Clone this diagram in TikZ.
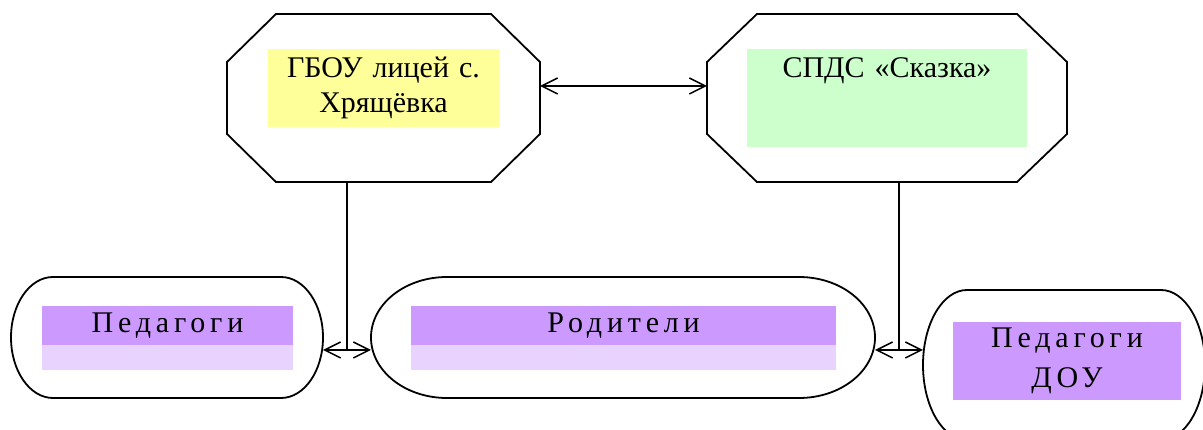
\documentclass[tikz,border=0pt]{standalone}
\usepackage{fontspec}
\setmainfont{Liberation Serif}
\newfontfamily\spaced[LetterSpace=16]{Liberation Serif}
\usepackage{tikz}
\usetikzlibrary{arrows.meta,positioning,calc}

\definecolor{lemon}{HTML}{FFFF99}
\definecolor{mint}{HTML}{CCFFCC}
\definecolor{lilac}{HTML}{CC99FF}
\definecolor{palelilac}{HTML}{E8D3FF}

\begin{document}
\begin{tikzpicture}[x=1pt,y=1pt,line width=1.8pt,
    >={Straight Barb[length=16pt,width=16pt]},
    frame/.style={inner sep=0,outer sep=0},
    band/.style={fill=#1,inner sep=0,outer sep=0,
      font=\fontsize{30}{35}\selectfont},
    spband/.style={band=#1,font={\spaced\fontsize{30}{40}\selectfont}}]
      \useasboundingbox (0,0) rectangle (1203,430);

      \coordinate (G) at (383.5,332);
      \coordinate (S) at (887,332);
      \coordinate (P) at (167,92.5);
      \coordinate (R) at (623,92.5);
      \coordinate (D) at (1064,65);

      % outlines
      \node[frame,minimum width=313,minimum height=168] (gbou) at (G) {};
      \node[frame,minimum width=360,minimum height=168] (spds) at (S) {};
      \node[frame,minimum width=312,minimum height=121] (ped) at (P) {};
      \node[frame,minimum width=504,minimum height=121] (rod) at (R) {};
      \node[frame,minimum width=282,minimum height=150] (pdou) at (D) {};

      \draw ([xshift=49]gbou.north west) -- ([xshift=-49]gbou.north east)
        -- ([yshift=-48]gbou.north east) -- ([yshift=48]gbou.south east)
        -- ([xshift=-49]gbou.south east) -- ([xshift=49]gbou.south west)
        -- ([yshift=48]gbou.south west) -- ([yshift=-48]gbou.north west) -- cycle;
      \draw ([xshift=50]spds.north west) -- ([xshift=-50]spds.north east)
        -- ([yshift=-48]spds.north east) -- ([yshift=48]spds.south east)
        -- ([xshift=-50]spds.south east) -- ([xshift=50]spds.south west)
        -- ([yshift=48]spds.south west) -- ([yshift=-48]spds.north west) -- cycle;

      \draw ([xshift=42]ped.north west) -- ([xshift=-42]ped.north east)
        arc[start angle=90,end angle=-90,x radius=42,y radius=60.5]
        -- ([xshift=42]ped.south west)
        arc[start angle=270,end angle=90,x radius=42,y radius=60.5] -- cycle;
      \draw ([xshift=76]rod.north west) -- ([xshift=-76]rod.north east)
        arc[start angle=90,end angle=-90,x radius=76,y radius=60.5]
        -- ([xshift=76]rod.south west)
        arc[start angle=270,end angle=90,x radius=76,y radius=60.5] -- cycle;
      \draw ([xshift=44]pdou.north west) -- ([xshift=-44]pdou.north east)
        arc[start angle=90,end angle=-90,x radius=44,y radius=75]
        -- ([xshift=44]pdou.south west)
        arc[start angle=270,end angle=90,x radius=44,y radius=75] -- cycle;

      % labels
      \node[band=lemon,text width=231,align=center,minimum height=78]
        (gbout) at (383.5,342) {ГБОУ лицей с.\\Хрящёвка};
      \node[band=mint,text width=280,align=center,text height=29,text depth=69]
        (spdst) at (S) {СПДС «Сказка»};
      \node[spband=lilac,minimum width=251,minimum height=39]
        (pedt) at (167.5,104.5) {Педагоги};
      \node[band=palelilac,minimum width=251,minimum height=25,below=0pt of pedt]
        (pedb) {};
      \node[spband=lilac,minimum width=425,minimum height=39]
        (rodt) at (623.5,104.5) {Родители};
      \node[band=palelilac,minimum width=425,minimum height=25,below=0pt of rodt]
        (rodb) {};
      \node[spband=lilac,align=center,minimum width=228,minimum height=78]
        (pdout) at (1067,69) {Педагоги\\ДОУ};

      % links
      \coordinate (ty) at (0,344);
      \coordinate (jl) at (347,80);
      \coordinate (jr) at (899,80);

      \draw[<->,line width=1.5pt] (gbou.east |- ty) -- (spds.west |- ty);
      \draw[line width=1.5pt] (gbou.south -| jl) -- (jl);
      \draw[line width=1.5pt] (spds.south -| jr) -- (jr);
      \draw[<->,line width=1.5pt] (ped.east |- jl) -- (rod.west |- jl);
      \draw[<->,line width=1.5pt] (rod.east |- jr) -- (pdou.west |- jr);

\end{tikzpicture}
\end{document}
